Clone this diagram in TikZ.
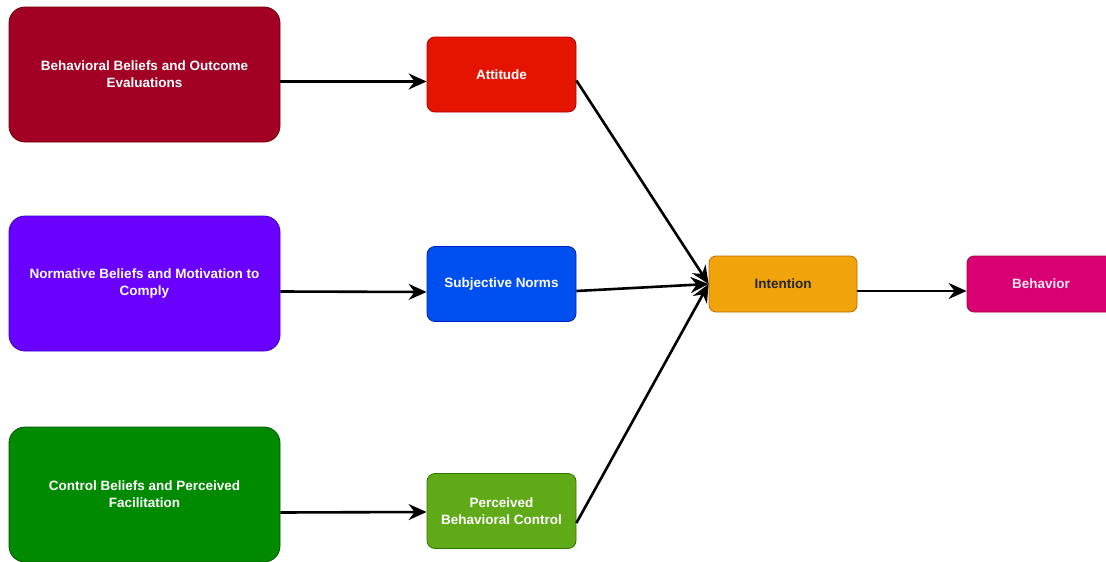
\documentclass[tikz,border=0pt]{standalone}
\usepackage{fontspec}
\setmainfont{Liberation Sans}
\usetikzlibrary{arrows.meta}

\definecolor{crimsonF}{HTML}{A20025}\definecolor{crimsonS}{HTML}{6F0000}
\definecolor{redF}{HTML}{E51400}\definecolor{redS}{HTML}{B20000}
\definecolor{violetF}{HTML}{6A00FF}\definecolor{violetS}{HTML}{3700CC}
\definecolor{cobaltF}{HTML}{0050EF}\definecolor{cobaltS}{HTML}{001DBC}
\definecolor{greenF}{HTML}{008A00}\definecolor{greenS}{HTML}{005700}
\definecolor{lgreenF}{HTML}{60A917}\definecolor{lgreenS}{HTML}{2D7600}
\definecolor{amberF}{HTML}{F0A30A}\definecolor{amberS}{HTML}{BD7000}
\definecolor{magentaF}{HTML}{D80073}\definecolor{magentaS}{HTML}{A50040}

\tikzset{
  box/.style={draw, line width=0.8pt, align=center, font=\fontsize{13.5}{17}\selectfont\bfseries,
    text=white, inner sep=0pt},
  bigbox/.style={box, minimum width=271pt, minimum height=135pt, rounded corners=16pt},
  smallbox/.style={box, minimum width=149pt, minimum height=75pt, rounded corners=8pt},
  flatbox/.style={box, minimum width=148pt, minimum height=56pt, rounded corners=7pt},
  link/.style={line width=2.6pt, -{Stealth[length=18pt,width=16pt,inset=6pt]}},
}

\begin{document}
\begin{tikzpicture}[x=1pt,y=-1pt]
  \useasboundingbox (0,0) rectangle (1106,562);

  % belief sources
  \node[bigbox, fill=crimsonF, draw=crimsonS] (bb) at (144.5,74.5) {Behavioral Beliefs and Outcome\\Evaluations};
  \node[bigbox, fill=violetF, draw=violetS] (nb) at (144.5,283.5) {Normative Beliefs and Motivation to\\Comply};
  \node[bigbox, fill=greenF, draw=greenS] (cb) at (144.5,494.5) {Control Beliefs and Perceived\\Facilitation};

  % constructs
  \node[smallbox, fill=redF, draw=redS] (att) at (501.5,74.5) {Attitude};
  \node[smallbox, fill=cobaltF, draw=cobaltS] (sn) at (501.5,284) {Subjective Norms};
  \node[smallbox, fill=lgreenF, draw=lgreenS] (pbc) at (501.5,511) {Perceived\\Behavioral Control};

  % outcomes
  \node[flatbox, fill=amberF, draw=amberS, text=black!85] (int) at (783,284) {Intention};
  \node[flatbox, fill=magentaF, draw=magentaS, text=white!90!magentaF] (beh) at (1041,284) {Behavior};

  % connectors
  \draw[link] ([yshift=-7pt]bb.east) -- ([yshift=-7pt]att.west);
  \draw[link] ([yshift=-8pt]nb.east) -- ([yshift=-8pt]sn.west);
  \draw[link] ([yshift=-18pt]cb.east) -- ([yshift=-1pt]pbc.west);
  \draw[link] ([yshift=-6pt]att.east) -- (int.west);
  \draw[link] ([yshift=-7pt]sn.east) -- (int.west);
  \draw[link] ([yshift=-12pt]pbc.east) -- (int.west);
  \draw[link] ([yshift=-7pt]int.east) -- ([yshift=-7pt]beh.west);
\end{tikzpicture}
\end{document}
